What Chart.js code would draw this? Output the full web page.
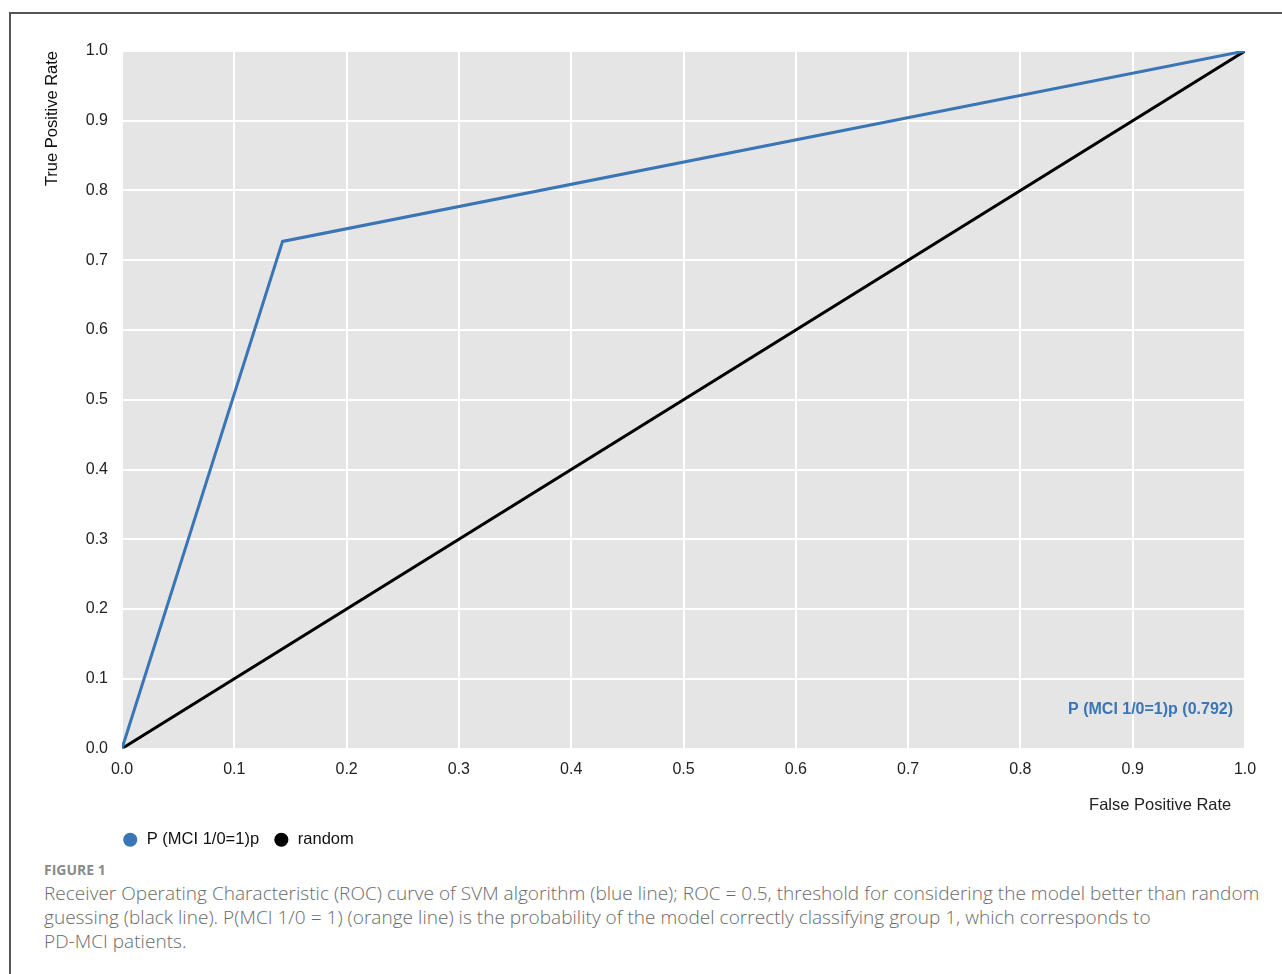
<!DOCTYPE html>
<html>
<head>
<meta charset="utf-8">
<script src="https://cdn.jsdelivr.net/npm/chart.js@4"></script>
<style>
  body { margin: 0; background: #fff; width: 1282px; height: 974px; overflow: hidden; position: relative; }
  .frame { position: absolute; left: 9px; top: 12px; right: 0; bottom: 0; border-left: 2px solid #555; border-top: 2px solid #555; }
  .chart-container { position: absolute; left: 0; top: 0; width: 1271px; height: 844px; }
  .caption { position: absolute; left: 33px; top: 846px; width: 1245px; font-family: "Open Sans", Lato, sans-serif; color: #6a6a6a; white-space: nowrap; }
  .caption .fig { font-weight: bold; font-size: 14px; color: #8a8a8a; margin-bottom: 2px; }
  .caption .text { font-size: 19px; line-height: 24px; font-weight: 300; letter-spacing: 0.03px; }
</style>
</head>
<body>
<div class="frame">
  <div class="chart-container"><canvas id="rocChart"></canvas></div>
  <div class="caption">
    <div class="fig">FIGURE 1</div>
    <div class="text">Receiver Operating Characteristic (ROC) curve of SVM algorithm (blue line); ROC = 0.5, threshold for considering the model better than random<br>guessing (black line). P(MCI 1/0 = 1) (orange line) is the probability of the model correctly classifying group 1, which corresponds to<br>PD-MCI patients.</div>
  </div>
</div>
<script>
// --- Data ---
const seriesNames = ['P (MCI 1/0=1)p', 'random'];
const modelFpr = [0.0, 0.143, 1.0];
const modelTpr = [0.0, 0.727, 1.0];
const randomFpr = [0.0, 1.0];
const randomTpr = [0.0, 1.0];
const aucLabel = 'P (MCI 1/0=1)p (0.792)';
const tickValues = [0, 0.1, 0.2, 0.3, 0.4, 0.5, 0.6, 0.7, 0.8, 0.9, 1.0];

const blue = '#3a75b5';
const fontFamily = '"Liberation Sans", Arial, sans-serif';

function toPoints(xs, ys) {
    return xs.map((x, i) => ({ x: x, y: ys[i] }));
}

// plot background + AUC label, and nudge the legend to line up under the plot
const plotDecor = {
    id: 'plotDecor',
    afterLayout(chart) {
        if (chart.legend) {
            chart.legend.left -= 14;
        }
    },
    beforeDraw(chart) {
        const { ctx, chartArea } = chart;
        ctx.save();
        ctx.fillStyle = '#e5e5e5';
        ctx.fillRect(chartArea.left, chartArea.top, chartArea.right - chartArea.left, chartArea.bottom - chartArea.top);
        ctx.restore();
    },
    afterDatasetsDraw(chart) {
        const { ctx, chartArea } = chart;
        ctx.save();
        ctx.font = 'bold 16px ' + fontFamily;
        ctx.fillStyle = blue;
        ctx.textAlign = 'right';
        ctx.textBaseline = 'middle';
        ctx.fillText(aucLabel, chartArea.right - 12, chartArea.bottom - 39);
        ctx.restore();
    }
};

const ctx = document.getElementById('rocChart').getContext('2d');
new Chart(ctx, {
    type: 'scatter',
    data: {
        datasets: [
            {
                label: seriesNames[0],
                data: toPoints(modelFpr, modelTpr),
                showLine: true,
                borderColor: blue,
                backgroundColor: blue,
                borderWidth: 3,
                pointRadius: 0,
                pointStyle: 'circle'
            },
            {
                label: seriesNames[1],
                data: toPoints(randomFpr, randomTpr),
                showLine: true,
                borderColor: '#000',
                backgroundColor: '#000',
                borderWidth: 3,
                pointRadius: 0,
                pointStyle: 'circle'
            }
        ]
    },
    options: {
        responsive: true,
        maintainAspectRatio: false,
        animation: false,
        layout: { padding: { top: 37, right: 37, left: 32, bottom: 0 } },
        scales: {
            x: {
                type: 'linear',
                min: 0,
                max: 1,
                afterBuildTicks: (scale) => { scale.ticks = tickValues.map(v => ({ value: v })); },
                ticks: {
                    color: '#222',
                    font: { family: fontFamily, size: 16 },
                    padding: 11,
                    callback: (v) => v.toFixed(1)
                },
                grid: { color: '#ffffff', lineWidth: 2, drawTicks: false },
                border: { display: false },
                title: {
                    display: true,
                    text: 'False Positive Rate   ',
                    align: 'end',
                    color: '#222',
                    font: { family: fontFamily, size: 16.5 },
                    padding: { top: 6, bottom: 2 }
                }
            },
            y: {
                type: 'linear',
                min: 0,
                max: 1,
                afterBuildTicks: (scale) => { scale.ticks = tickValues.map(v => ({ value: v })); },
                afterFit: (scale) => { scale.width = 79; },
                ticks: {
                    color: '#222',
                    font: { family: fontFamily, size: 16 },
                    padding: 14,
                    callback: (v) => v.toFixed(1)
                },
                grid: { color: '#ffffff', lineWidth: 2, drawTicks: false },
                border: { display: false },
                title: {
                    display: true,
                    text: 'True Positive Rate',
                    align: 'end',
                    color: '#111',
                    font: { family: fontFamily, size: 16.5 },
                    padding: { top: 0, bottom: 0 }
                }
            }
        },
        plugins: {
            legend: {
                position: 'bottom',
                align: 'start',
                fullSize: false,
                labels: {
                    usePointStyle: true,
                    boxHeight: 10,
                    padding: 14,
                    color: '#111',
                    font: { family: fontFamily, size: 16.5 },
                    generateLabels: (chart) => {
                        const items = Chart.defaults.plugins.legend.labels.generateLabels(chart);
                        items.forEach(it => { it.lineWidth = 0; });
                        return items;
                    }
                }
            },
            tooltip: { enabled: false }
        }
    },
    plugins: [plotDecor]
});
</script>
</body>
</html>
